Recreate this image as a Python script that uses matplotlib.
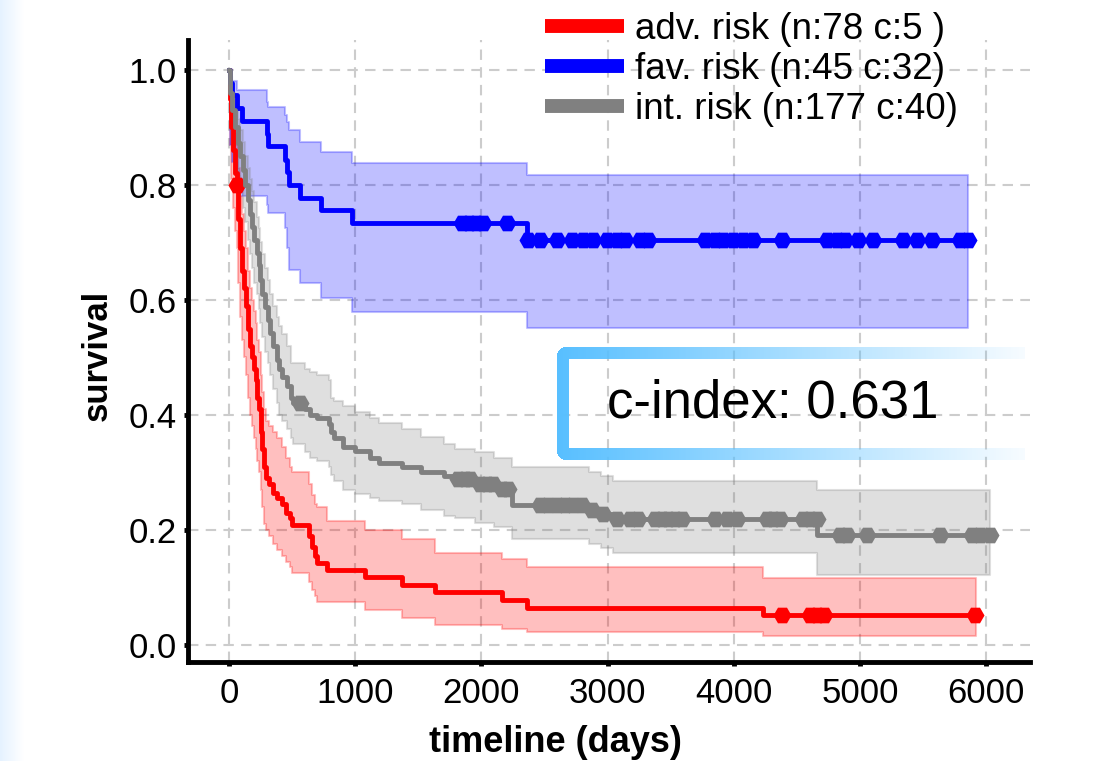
import numpy as np
import matplotlib
matplotlib.use("Agg")
import matplotlib.pyplot as plt

plt.rcParams['font.family'] = ['Liberation Sans', 'DejaVu Sans']

# ---- data (Kaplan-Meier steps, 95% CI, censor times) ----
# adv. risk
red_t = [0, 5, 15, 30, 45, 60, 75, 90, 105, 120, 135, 150, 165, 180, 195, 210, 225, 240,
         255, 265, 275, 290, 320, 350, 380, 420, 450, 480, 500, 630, 660, 680, 700, 776,
         1078, 1371, 1632, 2163, 2361, 4230]
red_s = [1.0, 0.95, 0.90, 0.86, 0.82, 0.80, 0.74, 0.69, 0.65, 0.62, 0.59, 0.55, 0.52, 0.50,
         0.48, 0.46, 0.43, 0.41, 0.37, 0.34, 0.31, 0.29, 0.28, 0.265, 0.255, 0.245, 0.23,
         0.22, 0.209, 0.19, 0.17, 0.155, 0.143, 0.130, 0.118, 0.104, 0.092, 0.078, 0.064, 0.052]
red_lo = [1.0, 0.87, 0.81, 0.76, 0.72, 0.69, 0.63, 0.57, 0.53, 0.50, 0.47, 0.43, 0.40, 0.38,
          0.36, 0.34, 0.32, 0.30, 0.27, 0.24, 0.21, 0.20, 0.19, 0.175, 0.165, 0.155, 0.145,
          0.135, 0.125, 0.11, 0.095, 0.085, 0.075, 0.075, 0.061, 0.047, 0.035, 0.028, 0.023, 0.016]
red_hi = [1.0, 0.98, 0.95, 0.92, 0.89, 0.87, 0.83, 0.78, 0.75, 0.72, 0.69, 0.65, 0.62, 0.60,
          0.58, 0.56, 0.53, 0.51, 0.47, 0.44, 0.41, 0.39, 0.38, 0.37, 0.36, 0.345, 0.325,
          0.31, 0.30, 0.28, 0.26, 0.245, 0.24, 0.215, 0.20, 0.185, 0.16, 0.15, 0.136, 0.117]
red_end = 5920
red_cens = [63, 4380, 4600, 4660, 4715, 5910]

# fav. risk
blue_t = [0, 10, 24, 63, 103, 300, 310, 444, 460, 475, 563, 730, 975, 2360]
blue_s = [1.0, 0.978, 0.956, 0.933, 0.911, 0.889, 0.867, 0.844, 0.822, 0.800, 0.778,
          0.756, 0.733, 0.704]
blue_lo = [1.0, 0.87, 0.84, 0.81, 0.78, 0.765, 0.751, 0.725, 0.69, 0.652, 0.63, 0.603,
           0.579, 0.551]
blue_hi = [1.0, 0.99, 0.98, 0.965, 0.965, 0.945, 0.936, 0.922, 0.91, 0.895, 0.875, 0.857,
           0.838, 0.817]
blue_end = 5858
blue_cens = [1850, 1905, 1960, 2010, 2205, 2370, 2464, 2597, 2715, 2808, 2887, 2993, 3072,
             3138, 3257, 3323, 3772, 3851, 3917, 3996, 4075, 4155, 4379, 4736, 4815, 4881,
             4987, 5106, 5343, 5449, 5568, 5792, 5858]

# int. risk
gray_t = [0, 10, 24, 45, 71, 90, 111, 130, 151, 165, 182, 200, 222, 235, 246, 265, 285,
          305, 325, 350, 380, 400, 420, 460, 490, 510, 600, 640, 700, 790, 810, 830, 900,
          1000, 1120, 1190, 1370, 1520, 1700, 1790, 1950, 2100, 2243, 2850, 2950, 3040, 4660]
gray_s = [1.0, 0.96, 0.93, 0.90, 0.873, 0.85, 0.826, 0.80, 0.774, 0.75, 0.727, 0.705, 0.682,
          0.66, 0.635, 0.61, 0.588, 0.565, 0.543, 0.52, 0.496, 0.48, 0.466, 0.45, 0.43, 0.42,
          0.41, 0.40, 0.395, 0.385, 0.37, 0.36, 0.345, 0.337, 0.325, 0.317, 0.309, 0.30,
          0.294, 0.288, 0.28, 0.272, 0.243, 0.235, 0.228, 0.219, 0.191]
gray_lo = [1.0, 0.92, 0.88, 0.845, 0.815, 0.79, 0.76, 0.735, 0.705, 0.68, 0.655, 0.63, 0.61,
           0.585, 0.56, 0.535, 0.51, 0.49, 0.47, 0.445, 0.42, 0.40, 0.39, 0.375, 0.36, 0.35,
           0.335, 0.325, 0.32, 0.31, 0.295, 0.285, 0.27, 0.262, 0.255, 0.25, 0.245, 0.235,
           0.225, 0.22, 0.212, 0.205, 0.185, 0.175, 0.168, 0.16, 0.122]
gray_hi = [1.0, 0.98, 0.96, 0.94, 0.915, 0.895, 0.875, 0.85, 0.83, 0.81, 0.79, 0.77, 0.745,
           0.725, 0.70, 0.68, 0.655, 0.635, 0.61, 0.59, 0.57, 0.555, 0.54, 0.52, 0.49, 0.49,
           0.48, 0.475, 0.47, 0.46, 0.43, 0.425, 0.415, 0.405, 0.395, 0.386, 0.375, 0.362,
           0.35, 0.34, 0.335, 0.325, 0.31, 0.30, 0.293, 0.285, 0.27]
gray_end = 6030
gray_cens = [560, 1817, 1870, 1910, 1989, 2042, 2094, 2161, 2213, 2464, 2530, 2597, 2662,
             2728, 2795, 2876, 2963, 3072, 3178, 3244, 3376, 3429, 3481, 3534, 3587, 3851,
             3944, 4023, 4261, 4313, 4366, 4551, 4604, 4657, 4841, 4894, 5053, 5634, 5885,
             5951, 6030]

labels = ['adv. risk (n:78 c:5 )', 'fav. risk (n:45 c:32)', 'int. risk (n:177 c:40)']
colors = ['red', 'blue', 'grey']
c_index = 0.631

groups = [
    (red_t, red_s, red_lo, red_hi, red_end, red_cens),
    (blue_t, blue_s, blue_lo, blue_hi, blue_end, blue_cens),
    (gray_t, gray_s, gray_lo, gray_hi, gray_end, gray_cens),
]

W, H = 1105, 761
fig = plt.figure(figsize=(W / 100, H / 100), dpi=100)

# pale blue strip on the left edge (screenshot background)
strip = fig.add_axes([0, 0, 24 / W, 1], zorder=-5)
g = np.linspace(0, 1, 50)[None, :, None]
c0 = np.array([0.90, 0.95, 1.0])
strip.imshow(c0 * (1 - g) + g, aspect='auto', extent=(0, 1, 0, 1))
strip.axis('off')

ax = fig.add_axes([188 / W, (H - 662) / H, 842 / W, 622 / H])

for (t, s, lo, hi, end, cens), lab, col in zip(groups, labels, colors):
    tt = np.append(t, end)
    ss = np.append(s, s[-1])
    ax.fill_between(tt, np.append(lo, lo[-1]), np.append(hi, hi[-1]), step='post',
                    color=col, alpha=0.25, linewidth=1.5)
    ax.step(tt, ss, where='post', color=col, lw=3.5, label=lab)
    idx = np.searchsorted(t, cens, side='right') - 1
    ax.plot(cens, np.asarray(s)[idx], ls='none', marker='H', ms=13, mew=0, color=col)

ax.set_xlim(-325, 6347)
ax.set_ylim(-0.0296, 1.052)
ax.set_xticks(range(0, 6001, 1000))
ax.set_yticks([0.0, 0.2, 0.4, 0.6, 0.8, 1.0])
ax.set_yticklabels(['0.0', '0.2', '0.4', '0.6', '0.8', '1.0'])
ax.grid(True, ls='--', color='#cccccc', lw=1.5, dashes=(5, 3.5))
ax.set_axisbelow(True)
for sp in ['top', 'right']:
    ax.spines[sp].set_visible(False)
for sp in ['left', 'bottom']:
    ax.spines[sp].set_linewidth(3.5)
ax.tick_params(direction='out', length=3, width=3.5, labelsize=25, pad=5)
ax.tick_params(axis='x', pad=8)

ax.set_xlabel('timeline (days)', fontsize=26, fontweight='bold')
ax.xaxis.set_label_coords((555 - 188) / 842, -81 / 622)
ax.xaxis.label.set_va('center')
ax.set_ylabel('survival', fontsize=25, fontweight='bold')
ax.yaxis.set_label_coords((97 - 188) / 842, (662 - 355) / 622)
ax.yaxis.label.set_va('center')

leg = ax.legend(loc='upper left', bbox_to_anchor=(545 / W, 1 - 12 / H),
                bbox_transform=fig.transFigure, frameon=False, fontsize=26.5,
                handlelength=2.15, handletextpad=0.3, labelspacing=0.13,
                borderpad=0, borderaxespad=0)
for h in leg.legend_handles:
    h.set_linewidth(10)
    h.set_solid_capstyle('butt')

# c-index box with a fading blue frame
bx0, by0, bw, bh = 557, 347, 468, 113
box = fig.add_axes([bx0 / W, 1 - (by0 + bh) / H, bw / W, bh / H], zorder=5)
box.axis('off')
th, rad = 12, 9
yy, xx = np.mgrid[0:bh, 0:bw] + 0.5
outer = np.ones((bh, bw), bool)
for cy in (rad, bh - rad):
    corner = (xx < rad) & ((yy < rad) if cy == rad else (yy > bh - rad))
    outer &= ~(corner & ((xx - rad) ** 2 + (yy - cy) ** 2 > rad ** 2))
inner = (xx > th) & (yy > th) & (yy < bh - th)
frame = outer & ~inner
rgba = np.zeros((bh, bw, 4))
rgba[..., :3] = [0x57 / 255, 0xBF / 255, 1.0]
rgba[..., 3] = frame * (1 - 0.95 * xx / bw)
box.imshow(rgba, aspect='auto', extent=(0, bw, bh, 0), interpolation='bilinear')
box.set_xlim(0, bw)
box.set_ylim(bh, 0)

fig.text(607 / W, 1 - 403 / H, 'c-index: %.3f' % c_index, fontsize=38, va='center',
         ha='left', zorder=6)

fig.savefig('out.png', dpi=100)
